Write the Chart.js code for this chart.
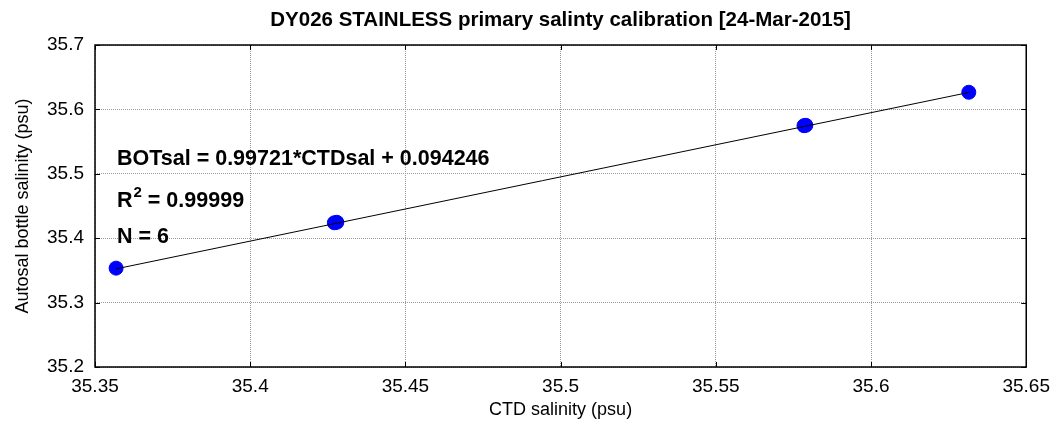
<!DOCTYPE html>
<html>
<head>
<meta charset="utf-8">
<script src="https://cdn.jsdelivr.net/npm/chart.js@4"></script>
<style>
  html, body { margin: 0; padding: 0; background: #fff; }
  #wrap { width: 1058px; height: 425px; }
</style>
</head>
<body>
<div id="wrap"><canvas id="calGraph" width="1058" height="425"></canvas></div>
<script>
// bottle samples: CTD reading vs autosal reading
const ctdSal = [35.3568, 35.4271, 35.4279, 35.5784, 35.5790, 35.6315];
const botSal = [35.3535, 35.4239, 35.4247, 35.5747, 35.5753, 35.6266];

// regression result printed on the plot
const fitSlope = 0.99721;
const fitIntercept = 0.094246;
const fitR2 = '0.99999';

const titleText = 'DY026 STAINLESS primary salinty calibration [24-Mar-2015]';
const xTicks = [35.35, 35.4, 35.45, 35.5, 35.55, 35.6, 35.65];
const yTicks = [35.2, 35.3, 35.4, 35.5, 35.6, 35.7];

const FONT = "'Liberation Sans', Arial, sans-serif";
Chart.defaults.font.family = FONT;
Chart.defaults.color = '#000';

const xLo = Math.min(...ctdSal), xHi = Math.max(...ctdSal);
const fitLine = [
    { x: xLo, y: fitSlope * xLo + fitIntercept },
    { x: xHi, y: fitSlope * xHi + fitIntercept }
];

const points = ctdSal.map((c, i) => ({ x: c, y: botSal[i] }));

// box around the axes with inward ticks, title over the axes, and the fit text
const matlabBox = {
    id: 'matlabBox',
    afterDraw(chart) {
        const { ctx, chartArea: { left, right, top, bottom }, scales: { x, y } } = chart;
        ctx.save();
        ctx.strokeStyle = '#000';
        ctx.lineWidth = 1;
        const tl = 5;
        ctx.beginPath();
        xTicks.forEach(v => {
            const px = Math.round(x.getPixelForValue(v)) + 0.5;
            ctx.moveTo(px, bottom); ctx.lineTo(px, bottom - tl);
            ctx.moveTo(px, top); ctx.lineTo(px, top + tl);
        });
        yTicks.forEach(v => {
            const py = Math.round(y.getPixelForValue(v)) + 0.5;
            ctx.moveTo(left, py); ctx.lineTo(left + tl, py);
            ctx.moveTo(right, py); ctx.lineTo(right - tl, py);
        });
        ctx.stroke();
        ctx.lineWidth = 1.5;
        ctx.strokeRect(left, top, right - left, bottom - top);

        ctx.fillStyle = '#000';

        // title centred on the axes box
        ctx.font = 'bold 20.5px ' + FONT;
        ctx.textAlign = 'center';
        ctx.textBaseline = 'middle';
        ctx.fillText(titleText, (left + right) / 2, top - 25);

        // equation, R^2 and count
        const tx = left + 22;
        ctx.textBaseline = 'alphabetic';
        ctx.textAlign = 'left';
        ctx.font = 'bold 21.5px ' + FONT;
        ctx.fillText('BOTsal = ' + fitSlope + '*CTDsal + ' + fitIntercept, tx, top + 120);

        ctx.fillText('R', tx, top + 162);
        let w = ctx.measureText('R').width;
        ctx.font = 'bold 15px ' + FONT;
        ctx.fillText('2', tx + w + 1, top + 152);
        w += ctx.measureText('2').width + 1;
        ctx.font = 'bold 21.5px ' + FONT;
        ctx.fillText(' = ' + fitR2, tx + w, top + 162);

        ctx.fillText('N = ' + ctdSal.length, tx, top + 198);
        ctx.restore();
    }
};

const data = {
    datasets: [
        {
            label: 'fit',
            data: fitLine,
            showLine: true,
            borderColor: '#000',
            borderWidth: 1,
            pointRadius: 0,
            order: 0
        },
        {
            label: 'samples',
            data: points,
            backgroundColor: '#0000ff',
            borderColor: '#0000ff',
            pointRadius: 7,
            order: 1
        }
    ]
};

const gridStyle = {
    color: '#9a9a9a',
    lineWidth: 1,
    drawTicks: false
};

const config = {
    type: 'scatter',
    data: data,
    options: {
        responsive: false,
        animation: false,
        layout: { padding: { left: 0, right: 31, top: 45, bottom: 0 } },
        plugins: {
            legend: { display: false },
            tooltip: { enabled: false },
            title: { display: false }
        },
        scales: {
            x: {
                type: 'linear',
                min: 35.35,
                max: 35.65,
                afterBuildTicks(scale) { scale.ticks = xTicks.map(v => ({ value: v })); },
                afterFit(scale) { scale.height = 58; },
                grid: { ...gridStyle },
                border: { display: false, dash: [1, 1] },
                ticks: {
                    padding: 8,
                    maxRotation: 0,
                    font: { size: 19 },
                    callback: v => String(Number(v.toFixed(2)))
                },
                title: {
                    display: true,
                    text: 'CTD salinity (psu)',
                    font: { size: 18 },
                    padding: { top: 0, bottom: 4 }
                }
            },
            y: {
                type: 'linear',
                min: 35.2,
                max: 35.7,
                afterBuildTicks(scale) { scale.ticks = yTicks.map(v => ({ value: v })); },
                afterFit(scale) { scale.width = 95; },
                grid: { ...gridStyle },
                border: { display: false, dash: [1, 1] },
                ticks: {
                    padding: 11,
                    font: { size: 19 },
                    callback: v => v.toFixed(1)
                },
                title: {
                    display: true,
                    text: 'Autosal bottle salinity (psu)',
                    font: { size: 18 },
                    padding: { top: 12, bottom: 0 }
                }
            }
        }
    },
    plugins: [matlabBox]
};

new Chart(document.getElementById('calGraph').getContext('2d'), config);
</script>
</body>
</html>
